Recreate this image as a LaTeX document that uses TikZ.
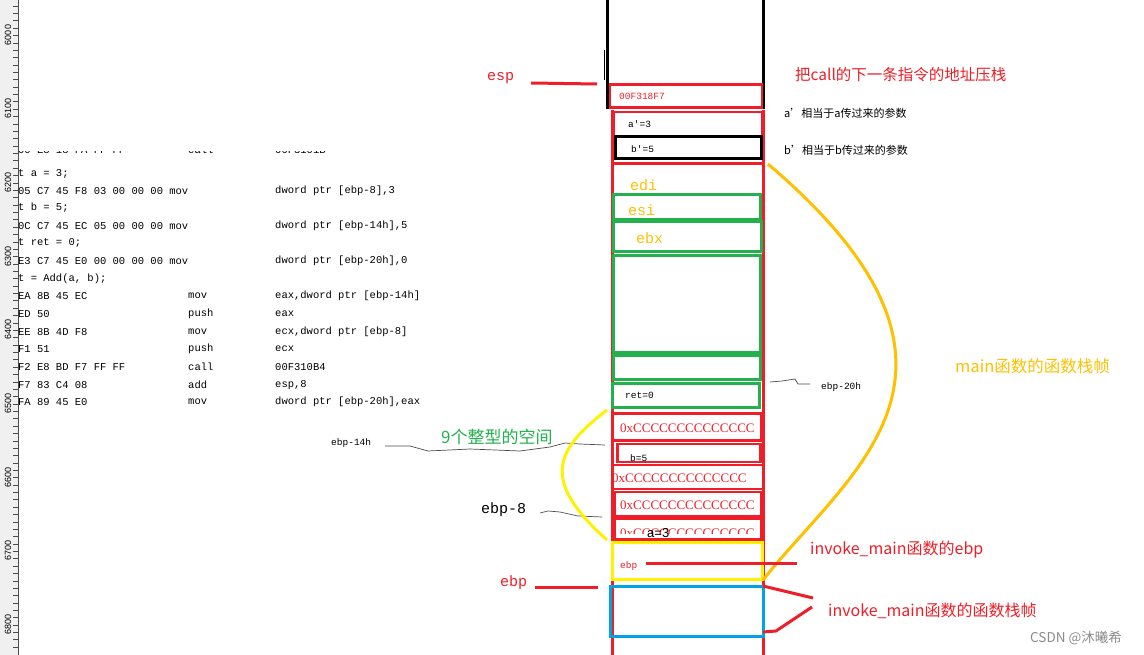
\documentclass[tikz,border=0pt]{standalone}
\usepackage{fontspec}
\setmainfont{Liberation Serif}
\newfontfamily\cjk{Noto Sans CJK SC}
\newfontfamily\mono{Liberation Mono}
\newfontfamily\sans{Liberation Sans}
\begin{document}
\begin{tikzpicture}[x=1pt,y=-1pt,
  code/.style={anchor=west,inner sep=0,font=\mono\fontsize{10.5}{12}\selectfont},
  lbl/.style={anchor=west,inner sep=0},
  wavy/.style={black!70,line width=0.7pt}]
\definecolor{ored}{HTML}{F01E28}
\definecolor{orng}{HTML}{FFC000}
\definecolor{grn}{HTML}{22B14C}
\definecolor{blu}{HTML}{00A2E8}
\useasboundingbox (0,0) rectangle (1144,655);
\fill[white] (0,0) rectangle (1144,655);
% ruler
\fill[black!6] (0,0) rectangle (18,655);
\draw[black!70] (18,0) -- (18,655);
\foreach \i in {0,...,88} { \draw[black!70] (13,{-1.5+7.37*\i}) -- (18,{-1.5+7.37*\i}); }
\foreach \v [count=\k from 0] in {6000,6100,6200,6300,6400,6500,6600,6700,6800}
  \node[rotate=90,font=\sans\fontsize{9}{9}\selectfont,inner sep=0] (r\k) at (8,{35+73.7*\k}) {\v};
% code
\begin{scope}
\clip (18,152) rectangle (470,420);
\node[code] (c0) at (18,150) {00 E8 18 FA FF FF};
\node[code] (m0) at (188,150) {call};
\node[code] (o0) at (275,150) {00F3101B};
\end{scope}
\node[code] (c1) at (18,174) {t a = 3;};
\node[code] (c2) at (18,191) {05 C7 45 F8 03 00 00 00 mov};
\node[code] (o2) at (275,191) {dword ptr [ebp-8],3};
\node[code] (c3) at (18,208) {t b = 5;};
\node[code] (c4) at (18,226) {0C C7 45 EC 05 00 00 00 mov};
\node[code] (o4) at (275,226) {dword ptr [ebp-14h],5};
\node[code] (c5) at (18,243) {t ret = 0;};
\node[code] (c6) at (18,261) {E3 C7 45 E0 00 00 00 00 mov};
\node[code] (o6) at (275,261) {dword ptr [ebp-20h],0};
\node[code] (c7) at (18,279) {t = Add(a, b);};
\foreach \y/\b/\m/\o [count=\n] in {296/EA 8B 45 EC/mov/{eax,dword ptr [ebp-14h]},314/ED 50/push/eax,332/EE 8B 4D F8/mov/{ecx,dword ptr [ebp-8]},349/F1 51/push/ecx,367/F2 E8 BD F7 FF FF/call/00F310B4,385/F7 83 C4 08/add/{esp,8},402/FA 89 45 E0/mov/{dword ptr [ebp-20h],eax}}{
  \node[code] (b\n) at (18,\y) {\b};
  \node[code] (mm\n) at (188,\y) {\m};
  \node[code] (oo\n) at (275,\y) {\o};
}
% stack column
\draw[black,line width=3pt] (607,0) -- (607,108) -- (763,108) -- (763,0);
\draw[ored,line width=3pt] (612,110) -- (612,655);
\draw[ored,line width=3pt] (763,110) -- (763,655);
\tikzset{sm/.style={lbl,font=\mono\fontsize{9.5}{9.5}\selectfont},
  big/.style={lbl,font=\mono\fontsize{15}{15}\selectfont},
  cc/.style={lbl,text=ored,font=\fontsize{13}{13}\selectfont},
  box/.style={line width=2.5pt,inner sep=0}}
\node[box,draw=ored,minimum width=152pt,minimum height=23pt] (ret) at (686,96) {};
\node[sm,text=ored] (retT) at (619,96) {00F318F7};
\node[box,draw=ored,minimum width=148pt,minimum height=24pt] (ap) at (688,124) {};
\node[sm] (apT) at (628,124) {a'=3};
\node[box,draw=black,line width=3pt,minimum width=146pt,minimum height=22pt] (bp) at (688,148) {};
\node[sm] (bpT) at (631,149) {b'=5};
\draw[ored,line width=3pt] (612,164) -- (763,164);
\node[big,text=orng] (edi) at (630,185) {edi};
\node[box,draw=grn,line width=3pt,minimum width=147pt,minimum height=25pt] (esi) at (687,207) {};
\node[big,text=orng] (esiT) at (628,210) {esi};
\node[box,draw=grn,line width=3pt,minimum width=148pt,minimum height=30pt] (ebx) at (687,237) {};
\node[big,text=orng] (ebxT) at (636,238) {ebx};
\node[box,draw=grn,line width=3pt,minimum width=147pt,minimum height=96pt] (bigbox) at (687,304) {};
\node[box,draw=grn,line width=3pt,minimum width=147pt,minimum height=24pt] (g2) at (687,367) {};
\node[box,draw=grn,line width=3pt,minimum width=147pt,minimum height=24pt] (r0) at (686,395) {};
\node[sm] (r0T) at (625,395) {ret=0};
\node[box,draw=ored,minimum width=148pt,minimum height=27pt] (k1) at (687,427) {};
\node[cc] (k1T) at (620,428) {0xCCCCCCCCCCCCCC};
\node[box,draw=ored,minimum width=143pt,minimum height=18pt] (k2) at (689,453) {};
\node[sm] (k2T) at (630,458) {b=5};
\node[box,draw=ored,minimum width=151pt,minimum height=24pt] (k3) at (688,477) {};
\node[cc] (k3T) at (612,478) {0xCCCCCCCCCCCCCC};
\node[box,draw=ored,minimum width=146pt,minimum height=24pt] (k4) at (688,504) {};
\node[cc] (k4T) at (620,505) {0xCCCCCCCCCCCCCC};
\node[box,draw=ored,minimum width=146pt,minimum height=21pt] (k5) at (688,529) {};
\begin{scope}
\clip (616,521) rectangle (760,533);
\node[cc] (k5T) at (620,533) {0xCCCCCCCCCCCCCC};
\end{scope}
\node[lbl,font=\sans\fontsize{13}{13}\selectfont] (a3) at (647,533) {a=3};
\node[box,draw=yellow,line width=3pt,minimum width=150pt,minimum height=37pt] (yb) at (687,561) {};
\node[sm,text=ored] (ybT) at (620,566) {ebp};
\node[box,draw=blu,line width=3pt,minimum width=153pt,minimum height=50pt] (bb) at (687,611) {};
% labels
\node[big,text=ored] (esp) at (487,78) {esp};
\draw[ored,line width=3pt] (531,83) -- (597,84);
\draw[black,line width=1pt] (604,50) -- (604,80);
\node[lbl,text=ored,font=\cjk\fontsize{15.5}{15.5}\selectfont] (t1) at (795,75) {把call的下一条指令的地址压栈};
\node[lbl,font=\cjk\fontsize{11}{11}\selectfont] (t2) at (784,113) {a’相当于a传过来的参数};
\node[lbl,font=\cjk\fontsize{11}{11}\selectfont] (t3) at (784,150) {b’相当于b传过来的参数};
\node[lbl,text=orng,font=\cjk\fontsize{16.5}{16.5}\selectfont] (mf) at (955,366) {main函数的函数栈帧};
\draw[orng,line width=3pt] (768,164) .. controls (1010,370) and (850,470) .. (763,580);
\draw[wavy] (770,382) -- (782,381) -- (795,379) -- (798,384) -- (810,384);
\node[sm] (e20) at (821,387) {ebp-20h};
\node[lbl,text=ored,font=\cjk\fontsize{16}{16}\selectfont] (im1) at (810,550) {invoke\_main函数的ebp};
\draw[ored,line width=3pt] (646,563) -- (797,563);
\node[lbl,text=ored,font=\cjk\fontsize{16}{16}\selectfont] (im2) at (828,611) {invoke\_main函数的函数栈帧};
\draw[ored,line width=3pt] (763,586) -- (813,598);
\draw[ored,line width=3pt] (812,607) -- (776,631) -- (763,632);
\node[big,text=ored] (ebpL) at (500,583) {ebp};
\draw[ored,line width=3pt] (535,587) -- (598,587);
\node[big] (e8) at (481,510) {ebp-8};
\draw[wavy] (540,513) -- (548,511) -- (560,512) -- (578,516) -- (602,517);
\node[sm] (e14) at (331,443) {ebp-14h};
\draw[wavy] (385,446) -- (410,446) -- (428,451) -- (470,449) -- (520,451) -- (550,447) -- (565,443) -- (580,444) -- (605,445);
\node[lbl,text=grn,font=\cjk\fontsize{17}{17}\selectfont] (nine) at (441,437) {9个整型的空间};
\draw[yellow,line width=3pt] (607,410) .. controls (555,450) and (540,480) .. (607,540);
\node[lbl,text=black!45,font=\cjk\fontsize{13.5}{13.5}\selectfont] (csdn) at (1030,638) {CSDN @沐曦希};
\end{tikzpicture}
\end{document}
